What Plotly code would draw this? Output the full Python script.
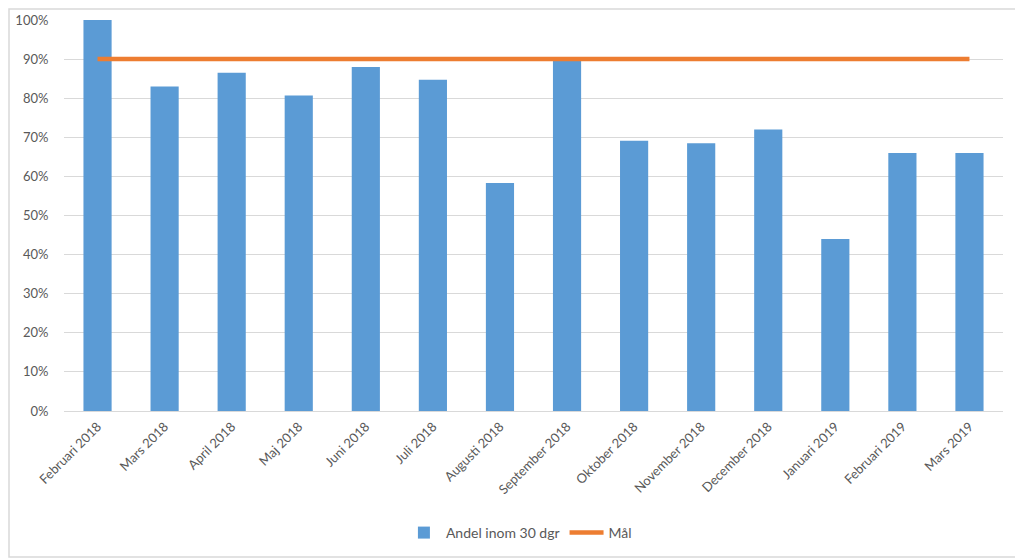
import plotly.graph_objects as go

categories = ["Februari 2018", "Mars 2018", "April 2018", "Maj 2018", "Juni 2018",
              "Juli 2018", "Augusti 2018", "September 2018", "Oktober 2018",
              "November 2018", "December 2018", "Januari 2019", "Februari 2019",
              "Mars 2019"]
andel = [1.00, 0.83, 0.865, 0.807, 0.88, 0.847, 0.583, 0.896, 0.691, 0.685,
         0.72, 0.44, 0.66, 0.66]
mal = [0.90] * len(categories)
y_ticks = [0, 0.1, 0.2, 0.3, 0.4, 0.5, 0.6, 0.7, 0.8, 0.9, 1.0]

# page body has an 8px margin, so shrink the figure accordingly
W, H = 1015, 552
ml, mr, mt, mb = 56, 20, 12, 149
pw, ph = W - ml - mr, H - mt - mb
pb = H - mb  # plot bottom in figure px

fig = go.Figure()
fig.add_trace(go.Bar(
    x=categories, y=andel, name="Andel inom 30 dgr",
    marker=dict(color="#5B9BD5", line=dict(width=0)),
))
fig.add_trace(go.Scatter(
    x=categories, y=mal, name="Mål", mode="lines",
    line=dict(color="#ED7D31", width=4.5),
))

font_color = "#595959"
fig.update_layout(
    width=W, height=H,
    margin=dict(l=ml, r=mr, t=mt, b=mb, autoexpand=False),
    paper_bgcolor="white", plot_bgcolor="white",
    font=dict(family="Lato, Open Sans, sans-serif", size=13, color=font_color),
    bargap=0.58,
    showlegend=True,
    legend=dict(orientation="h", x=0.485, xanchor="center", y=-0.312, yanchor="middle",
                font=dict(size=14, color=font_color), itemwidth=34,
                traceorder="normal"),
    xaxis=dict(
        type="category", tickangle=-45, showgrid=False, showline=False,
        ticks="outside", ticklen=2, tickcolor="white", automargin=False,
        tickfont=dict(size=13, color=font_color),
    ),
    yaxis=dict(
        range=[0, 1.0], tickvals=y_ticks, tickformat=".0%",
        showgrid=True, gridcolor="#D9D9D9", gridwidth=1,
        zeroline=True, zerolinecolor="#D9D9D9", zerolinewidth=1,
        showline=False, ticks="outside", ticklen=12, tickcolor="white",
        automargin=False,
        tickfont=dict(size=13, color=font_color),
    ),
    shapes=[dict(
        type="rect", xref="paper", yref="paper",
        x0=(1 - ml) / pw, x1=(1013 - ml) / pw,
        y0=(pb - 549) / ph, y1=(pb - 1) / ph,
        line=dict(color="#D9D9D9", width=1.5), fillcolor="rgba(0,0,0,0)",
        layer="below",
    )],
)

fig.write_html("out.html")
